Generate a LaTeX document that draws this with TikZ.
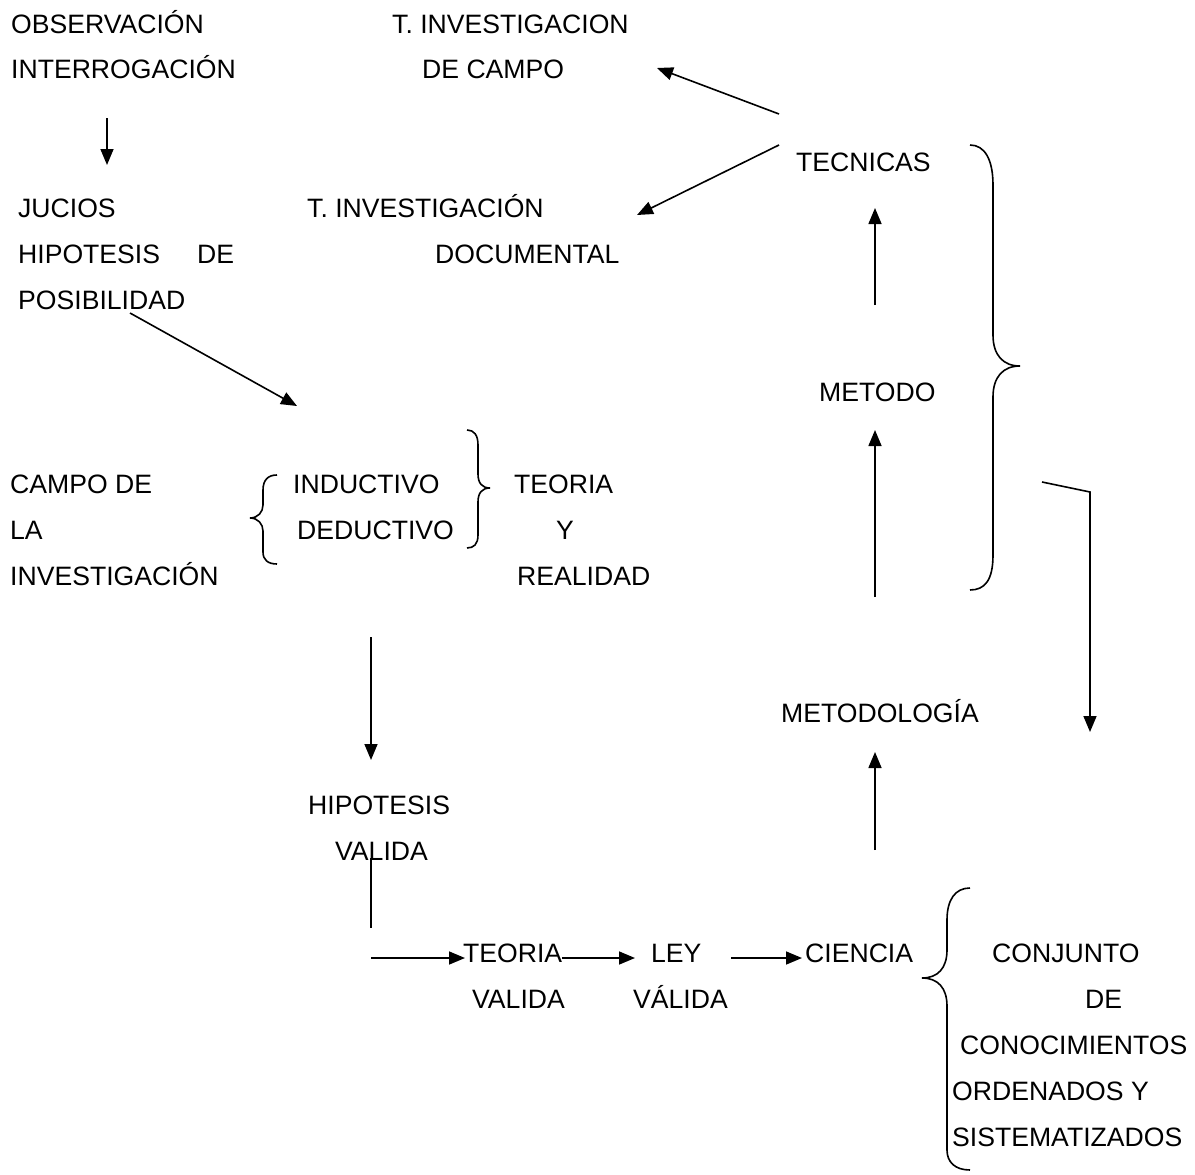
\documentclass[tikz,border=0pt]{standalone}
\usepackage{fontspec}
\setmainfont{Liberation Sans}
\usetikzlibrary{arrows.meta}
\tikzset{
  txt/.style   ={anchor=base west,inner sep=0pt,font=\fontsize{26.6}{30}\selectfont},
  flecha/.style={line width=1.6pt,-{Triangle[length=16pt,width=13pt]}},
  linea/.style ={line width=1.6pt},
  llave/.style ={line width=1.6pt},
}

\begin{document}
\begin{tikzpicture}[x=1pt,y=-1pt]
  \useasboundingbox (0,0) rectangle (1195,1175);
  % textos
  \node[txt] (obs)    at (11,33)  {OBSERVACIÓN};
  \node[txt] (interr) at (11,78)  {INTERROGACIÓN};
  \node[txt] (tcamp1) at (392,33) {T. INVESTIGACION};
  \node[txt] (tcamp2) at (422,78) {DE CAMPO};
  \node[txt] (tec)    at (796,171) {TECNICAS};
  \node[txt] (jucios) at (18,217) {JUCIOS};
  \node[txt] (tdoc1)  at (307,217) {T. INVESTIGACIÓN};
  \node[txt] (hip)    at (18,263) {HIPOTESIS};
  \node[txt] (de)     at (197,263) {DE};
  \node[txt] (tdoc2)  at (435,263) {DOCUMENTAL};
  \node[txt] (posib)  at (18,309) {POSIBILIDAD};
  \node[txt] (met)    at (819,401) {METODO};
  \node[txt] (campo1) at (10,493) {CAMPO DE};
  \node[txt] (campo2) at (10,539) {LA};
  \node[txt] (campo3) at (10,585) {INVESTIGACIÓN};
  \node[txt] (ind)    at (293,493) {INDUCTIVO};
  \node[txt] (ded)    at (297,539) {DEDUCTIVO};
  \node[txt] (teo)    at (514,493) {TEORIA};
  \node[txt] (y)      at (556,539) {Y};
  \node[txt] (real)   at (517,585) {REALIDAD};
  \node[txt] (metod)  at (781,722) {METODOLOGÍA};
  \node[txt] (hipv1)  at (308,814) {HIPOTESIS};
  \node[txt] (hipv2)  at (335,860) {VALIDA};
  \node[txt] (teov1)  at (463,962) {TEORIA};
  \node[txt] (teov2)  at (472,1008) {VALIDA};
  \node[txt] (ley1)   at (651,962) {LEY};
  \node[txt] (ley2)   at (633,1008) {VÁLIDA};
  \node[txt] (cien)   at (805,962) {CIENCIA};
  \node[txt] (conj1)  at (992,962) {CONJUNTO};
  \node[txt] (conj2)  at (1085,1008) {DE};
  \node[txt] (conj3)  at (960,1054) {CONOCIMIENTOS};
  \node[txt] (conj4)  at (952,1100) {ORDENADOS Y};
  \node[txt] (conj5)  at (952,1146) {SISTEMATIZADOS};

  % puntos libres de las flechas
  \coordinate (a1) at (107,118);  \coordinate (a2) at (107,165);
  \coordinate (b1) at (130,313);  \coordinate (b2) at (297,406);
  \coordinate (c0) at (779,114);  \coordinate (c1) at (657,68);
  \coordinate (d0) at (779,145);  \coordinate (d1) at (637,215);
  \coordinate (e1) at (875,305);  \coordinate (e2) at (875,208);
  \coordinate (f1) at (875,597);  \coordinate (f2) at (875,430);
  \coordinate (g1) at (875,850);  \coordinate (g2) at (875,752);
  \coordinate (h1) at (371,637);  \coordinate (h2) at (371,760);
  \coordinate (i1) at (371,858);  \coordinate (i2) at (371,928);
  \coordinate (j1) at (371,958);  \coordinate (j2) at (465,958);
  \coordinate (k1) at (562,958);  \coordinate (k2) at (635,958);
  \coordinate (l1) at (731,958);  \coordinate (l2) at (802,958);
  \coordinate (m0) at (1042,482); \coordinate (m1) at (1090,492);
  \coordinate (m2) at (1090,732);

  \draw[flecha] (a1) -- (a2);
  \draw[flecha] (b1) -- (b2);
  \draw[flecha] (c0) -- (c1);
  \draw[flecha] (d0) -- (d1);
  \draw[flecha] (e1) -- (e2);
  \draw[flecha] (f1) -- (f2);
  \draw[flecha] (g1) -- (g2);
  \draw[flecha] (h1) -- (h2);
  \draw[linea]  (i1) -- (i2);
  \draw[flecha] (j1) -- (j2);
  \draw[flecha] (k1) -- (k2);
  \draw[flecha] (l1) -- (l2);
  \draw[flecha] (m0) -- (m1) -- (m2);

  % llaves
  \draw[llave] (970,145) .. controls (985,145) and (993,160) .. (993,185)
    -- (993,335) .. controls (993,355) and (1003,366) .. (1020,366)
    .. controls (1003,366) and (993,377) .. (993,397)
    -- (993,555) .. controls (993,580) and (985,590) .. (970,590);
  \draw[llave] (277,475) .. controls (268,475) and (263,480) .. (263,490)
    -- (263,505) .. controls (263,512) and (258,518) .. (250,518)
    .. controls (258,518) and (263,524) .. (263,531)
    -- (263,552) .. controls (263,560) and (268,564) .. (277,564);
  \draw[llave] (467,430) .. controls (474,430) and (478,435) .. (478,445)
    -- (478,474) .. controls (478,483) and (482,488) .. (490,488)
    .. controls (482,488) and (478,493) .. (478,502)
    -- (478,535) .. controls (478,544) and (474,548) .. (467,548);
  \draw[llave] (970,888) .. controls (955,888) and (947,900) .. (947,920)
    -- (947,950) .. controls (947,968) and (938,978) .. (922,978)
    .. controls (938,978) and (947,988) .. (947,1006)
    -- (947,1150) .. controls (947,1162) and (955,1170) .. (970,1170);
\end{tikzpicture}
\end{document}
